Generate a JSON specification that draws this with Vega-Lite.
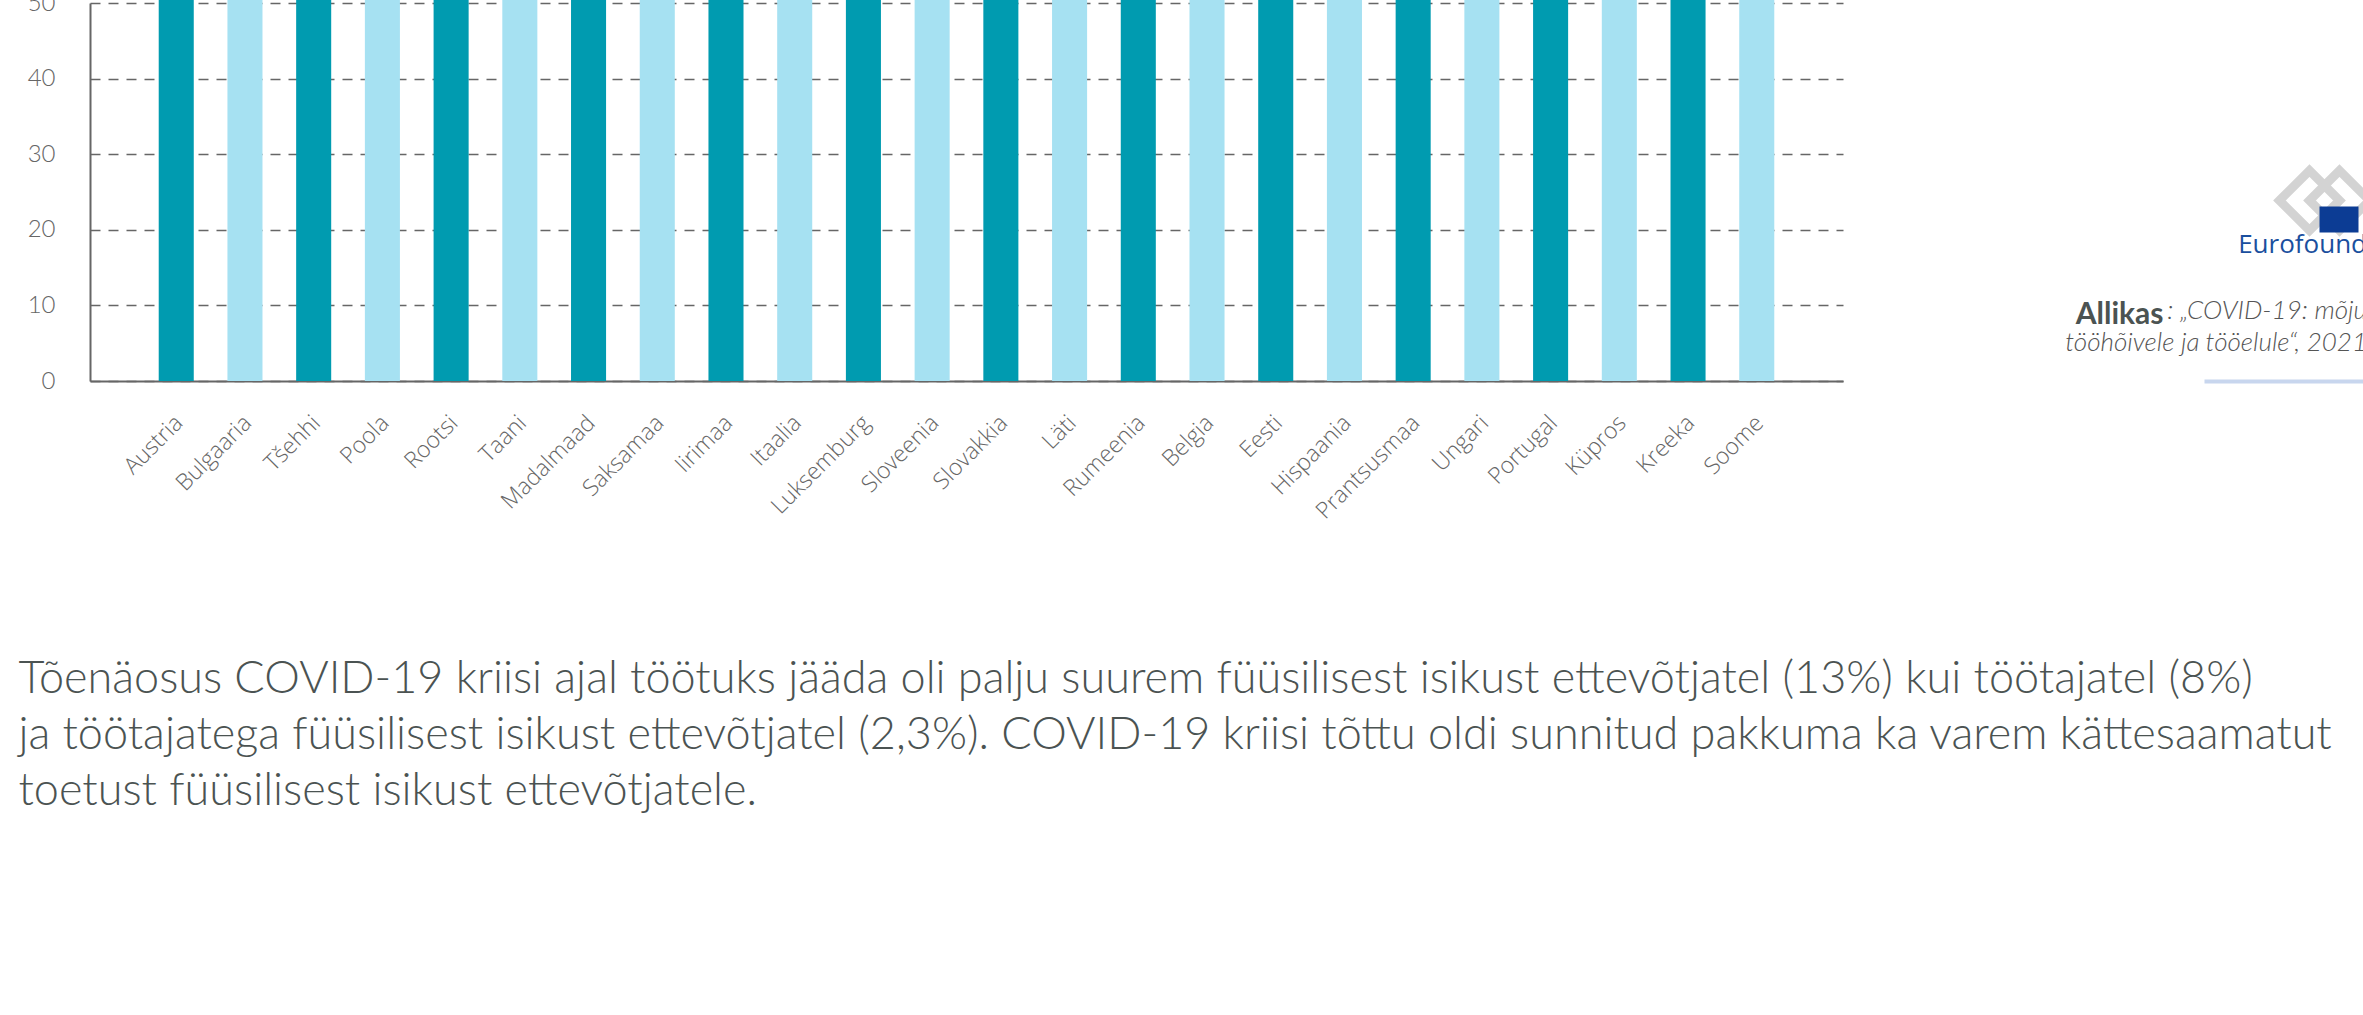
{
  "$schema": "https://vega.github.io/schema/vega-lite/v6.json",
  "width": 1753,
  "height": 378,
  "autosize": {"type": "none"},
  "padding": {"left": 90, "top": 3, "right": 520, "bottom": 634},
  "background": "white",
  "config": {"view": {"stroke": null}},
  "title": {
    "text": "Eurofound",
    "subtitle": [": „COVID-19: mõju", "tööhõivele ja tööelule“, 2021"],
    "orient": "top",
    "anchor": "end",
    "frame": "group",
    "dx": 524,
    "offset": -368,
    "font": "Open Sans",
    "fontWeight": 500,
    "fontSize": 26,
    "color": "#1A4F9E",
    "subtitleFont": "Lato",
    "subtitleFontStyle": "italic",
    "subtitleFontWeight": 300,
    "subtitleFontSize": 26,
    "subtitleColor": "#555555",
    "subtitleLineHeight": 32,
    "subtitlePadding": 40
  },
  "data": {
    "values": [
      {"maa": "Austria", "v": 52},
      {"maa": "Bulgaaria", "v": 52},
      {"maa": "Tšehhi", "v": 52},
      {"maa": "Poola", "v": 52},
      {"maa": "Rootsi", "v": 52},
      {"maa": "Taani", "v": 52},
      {"maa": "Madalmaad", "v": 52},
      {"maa": "Saksamaa", "v": 52},
      {"maa": "Iirimaa", "v": 52},
      {"maa": "Itaalia", "v": 52},
      {"maa": "Luksemburg", "v": 52},
      {"maa": "Sloveenia", "v": 52},
      {"maa": "Slovakkia", "v": 52},
      {"maa": "Läti", "v": 52},
      {"maa": "Rumeenia", "v": 52},
      {"maa": "Belgia", "v": 52},
      {"maa": "Eesti", "v": 52},
      {"maa": "Hispaania", "v": 52},
      {"maa": "Prantsusmaa", "v": 52},
      {"maa": "Ungari", "v": 52},
      {"maa": "Portugal", "v": 52},
      {"maa": "Küpros", "v": 52},
      {"maa": "Kreeka", "v": 52},
      {"maa": "Soome", "v": 52}
    ]
  },
  "layer": [
    {
      "transform": [{"window": [{"op": "row_number", "as": "nr"}]}],
      "mark": {"type": "bar"},
      "encoding": {
        "x": {
          "field": "maa",
          "type": "nominal",
          "sort": null,
          "scale": {"paddingInner": 0.49, "paddingOuter": 1.0},
          "axis": {
            "title": [
              "Tõenäosus COVID-19 kriisi ajal töötuks jääda oli palju suurem füüsilisest isikust ettevõtjatel (13%) kui töötajatel (8%)",
              "ja töötajatega füüsilisest isikust ettevõtjatel (2,3%). COVID-19 kriisi tõttu oldi sunnitud pakkuma ka varem kättesaamatut",
              "toetust füüsilisest isikust ettevõtjatele."
            ],
            "titleX": -72,
            "titleY": 311,
            "titleAlign": "left",
            "titleAngle": 0,
            "titleBaseline": "alphabetic",
            "titleFont": "Lato",
            "titleFontWeight": 300,
            "titleFontSize": 45,
            "titleLineHeight": 56,
            "titleColor": "#4B5352",
            "labelAngle": -45,
            "labelAlign": "right",
            "labelBaseline": "middle",
            "labelPadding": 38,
            "labelOffset": 3,
            "labelFont": "Open Sans",
            "labelFontWeight": 300,
            "labelFontSize": 23,
            "labelColor": "#666666",
            "labelOverlap": false,
            "ticks": false,
            "domainColor": "#666666",
            "domainWidth": 2
          }
        },
        "y": {
          "field": "v",
          "type": "quantitative",
          "scale": {"domain": [0, 50], "nice": false},
          "axis": {
            "values": [0, 10, 20, 30, 40, 50],
            "title": "Allikas",
            "titleAngle": 0,
            "titleAlign": "right",
            "titleBaseline": "alphabetic",
            "titleX": 2073,
            "titleY": 320,
            "titleFont": "Lato",
            "titleFontWeight": 700,
            "titleFontSize": 30,
            "titleColor": "#4B5352",
            "grid": true,
            "gridDash": [10, 8],
            "gridColor": "#666666",
            "gridWidth": 1.5,
            "ticks": false,
            "domainColor": "#666666",
            "domainWidth": 2,
            "labelFont": "Lato",
            "labelFontWeight": 300,
            "labelFontSize": 24,
            "labelColor": "#666666",
            "labelPadding": 35
          }
        },
        "color": {
          "condition": {"test": "datum.nr % 2 == 1", "value": "#009BB0"},
          "value": "#A6E1F2"
        }
      }
    },
    {
      "mark": {"type": "rule", "opacity": 0},
      "encoding": {
        "y": {
          "datum": 0,
          "type": "quantitative",
          "scale": {"domain": [0, 50], "nice": false},
          "axis": {
            "orient": "right",
            "offset": 361,
            "values": [0, 21.4],
            "domain": false,
            "labels": false,
            "grid": false,
            "ticks": true,
            "zindex": 2,
            "tickSize": 160,
            "tickWidth": {"condition": {"test": "datum.value == 0", "value": 4}, "value": 26},
            "tickColor": {"condition": {"test": "datum.value == 0", "value": "#C8D6EE"}, "value": "#0C3C94"},
            "tickDash": {"condition": {"test": "datum.value == 0", "value": []}, "value": [0, 115, 39, 300]},
            "title": null
          }
        }
      }
    },
    {
      "mark": {"type": "point", "opacity": 0, "filled": false, "color": "#D3D3D3"},
      "encoding": {
        "shape": {
          "datum": "Eurofound",
          "scale": {"range": ["M-1.5,0L-0.5,-1L0.5,0L-0.5,1Z M-0.5,0L0.5,-1L1.5,0L0.5,1Z"]},
          "legend": {
            "orient": "none",
            "legendX": 2200,
            "legendY": 163,
            "title": null,
            "labelExpr": "''",
            "padding": 0,
            "symbolSize": 3600,
            "symbolStrokeWidth": 9,
            "symbolStrokeColor": "#D3D3D3",
            "symbolFillColor": "transparent",
            "zindex": 1
          }
        }
      }
    }
  ],
  "resolve": {"scale": {"y": "independent"}, "axis": {"y": "independent"}}
}
